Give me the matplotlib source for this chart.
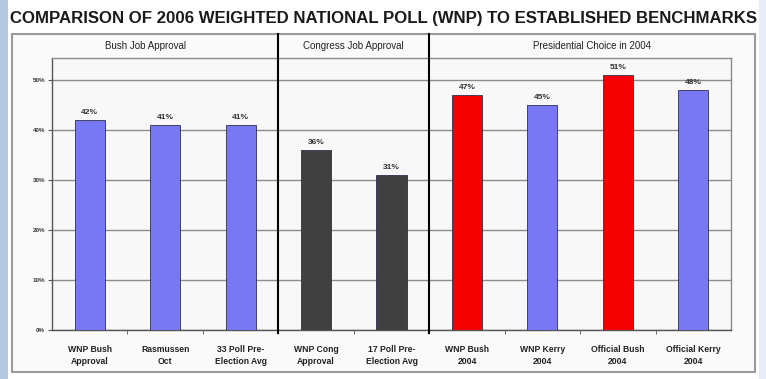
import matplotlib
matplotlib.use("Agg")
import matplotlib.pyplot as plt
from matplotlib.patches import Rectangle
from matplotlib.lines import Line2D

plt.rcParams['font.family'] = ['Liberation Sans', 'DejaVu Sans']

# data
categories = ["WNP Bush\nApproval", "Rasmussen\nOct", "33 Poll Pre-\nElection Avg",
              "WNP Cong\nApproval", "17 Poll Pre-\nElection Avg",
              "WNP Bush\n2004", "WNP Kerry\n2004", "Official Bush\n2004", "Official Kerry\n2004"]
values = [42, 41, 41, 36, 31, 47, 45, 51, 48]
groups = ["Bush Job Approval", "Congress Job Approval", "Presidential Choice in 2004"]
group_sizes = [3, 2, 4]
yticks = [0, 10, 20, 30, 40, 50]

blue = "#7878f4"
dark = "#404040"
red = "#f40000"
bar_colors = [blue, blue, blue, dark, dark, red, blue, red, blue]

W, H = 766, 379
fig = plt.figure(figsize=(W / 100, H / 100), dpi=100)
fig.patch.set_facecolor("white")

def fx(px):
    return px / W

def fy(py):
    return 1 - py / H

# light blue strip on the left, pale one on the right
fig.patches.append(Rectangle((0, 0), fx(8), 1, transform=fig.transFigure,
                             facecolor="#b4c8e2", edgecolor="none", zorder=0))
fig.patches.append(Rectangle((fx(759), 0), 1 - fx(759), 1, transform=fig.transFigure,
                             facecolor="#e6edf6", edgecolor="none", zorder=0))
# outer frame
fig.patches.append(Rectangle((fx(12), fy(372)), fx(755 - 12), fy(34) - fy(372),
                             transform=fig.transFigure, facecolor="#fafafa",
                             edgecolor="#9a9a9a", linewidth=1.5, zorder=0))

fig.text(0.5, fy(18), "COMPARISON OF 2006 WEIGHTED NATIONAL POLL (WNP) TO ESTABLISHED BENCHMARKS",
         ha="center", va="center", fontsize=12.1, fontweight="bold", color="#1a1a1a")

ax = fig.add_axes([fx(52), fy(330), fx(731 - 52), fy(58) - fy(330)])
ax.set_zorder(2)
ax.set_facecolor("#f8f8f8")
x = list(range(len(values)))
ax.bar(x, values, width=0.4, color=bar_colors, edgecolor="#303050", linewidth=0.6, zorder=3)
for xi, v in zip(x, values):
    ax.text(xi, v + 0.8, f"{v}%", ha="center", va="bottom", fontsize=6,
            fontweight="bold", color="#333333", zorder=4)

ax.set_xlim(-0.5, len(values) - 0.5)
ax.set_ylim(0, 54.5)
ax.set_yticks(yticks)
ax.set_yticklabels([f"{t}%" for t in yticks], fontsize=4.5, color="#333333", fontweight="bold")
ax.yaxis.grid(True, color="#8c8c8c", linewidth=1.0, zorder=1)
ax.set_xticks(x)
ax.set_xticklabels(categories, fontsize=6.2, fontweight="bold", color="#222222", linespacing=1.35)
ax.set_xticks([i + 0.5 for i in range(len(values) - 1)], minor=True)
ax.tick_params(axis="x", which="major", length=0, pad=11)
ax.tick_params(axis="x", which="minor", length=3, color="#555555", direction="out")
ax.tick_params(axis="y", length=3, color="#555555", pad=2)
for s in ax.spines.values():
    s.set_color("#8a8a8a")
    s.set_linewidth(1.0)
ax.spines["left"].set_color("#555555")
ax.spines["bottom"].set_color("#555555")

# group dividers and header labels
trans = ax.get_xaxis_transform()
top = (fy(34) - fy(330)) / (fy(58) - fy(330))
start = -0.5
for i, (name, n) in enumerate(zip(groups, group_sizes)):
    end = start + n
    if i < len(groups) - 1:
        ax.add_line(Line2D([end, end], [-0.01, top], transform=trans, color="black",
                           linewidth=1.5, clip_on=False, zorder=5))
    xl = fx(12) if i == 0 else ax.transData.transform((start, 0))[0] / W
    xr = fx(755) if i == len(groups) - 1 else ax.transData.transform((end, 0))[0] / W
    fig.text((xl + xr) / 2, fy(46), name, ha="center", va="center", fontsize=7, color="#222222")
    start = end

fig.savefig("out.png", dpi=100)
